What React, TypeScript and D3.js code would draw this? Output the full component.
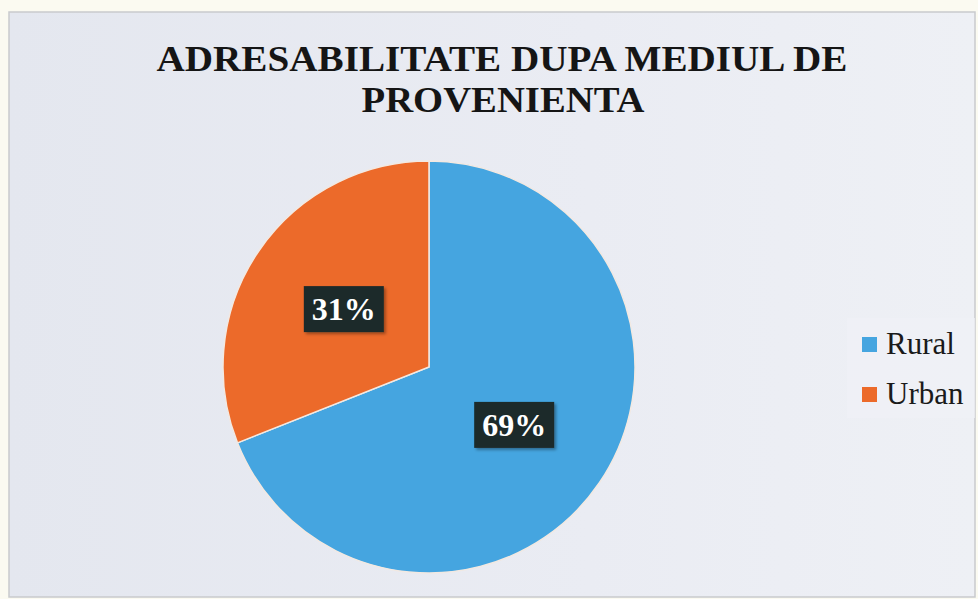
import React, { useMemo } from 'react'
import { arc, pie, scaleOrdinal } from 'd3'

// chart data
const categories: string[] = ['Rural', 'Urban']
const shares: number[] = [69, 31]
const sliceColors: string[] = ['#45a5e0', '#ec6a2a']
const titleLines: string[] = ['ADRESABILITATE DUPA MEDIUL DE', 'PROVENIENTA']

const W = 978, H = 599
const cx = 429, cy = 367, radius = 206
const serif = '"Liberation Serif", "DejaVu Serif", serif'

export default function App() {
  const color = useMemo(() => scaleOrdinal<string, string>().domain(categories).range(sliceColors), [])

  const slices = useMemo(() => {
    const gen = pie<number>().sort(null).value((d) => d)
    return gen(shares)
  }, [])

  const arcGen = arc<any>().innerRadius(0).outerRadius(radius)

  return (
    <svg width={W} height={H} style={{ position: 'absolute', left: 0, top: 0 }}>
      <defs>
        <linearGradient id="bg" x1="0" y1="0" x2="1" y2="0">
          <stop offset="0" stopColor="#e4e7ef" />
          <stop offset="0.6" stopColor="#eaecf3" />
          <stop offset="1" stopColor="#eef0f5" />
        </linearGradient>
        <filter id="shadow" x="-20%" y="-20%" width="150%" height="150%">
          <feDropShadow dx="2" dy="2" stdDeviation="1.5" floodColor="#000" floodOpacity="0.35" />
        </filter>
      </defs>
      {/* paper + chart area */}
      <rect x={0} y={0} width={W} height={H} fill="#fbfaf1" />
      <rect x={9} y={12} width={966} height={585} fill="url(#bg)" stroke="#c9cacd" strokeWidth={1.5} />

      {/* title */}
      <g fontFamily={serif} fontWeight="bold" fill="#151515" textAnchor="middle">
        <text x={502} y={71} fontSize={36} textLength={691} lengthAdjust="spacingAndGlyphs">{titleLines[0]}</text>
        <text x={503} y={112} fontSize={36} textLength={283} lengthAdjust="spacingAndGlyphs">{titleLines[1]}</text>
      </g>

      {/* pie */}
      <g transform={`translate(${cx},${cy})`}>
        {slices.map((s, i) => (
          <path key={categories[i]} d={arcGen(s) ?? ''} fill={color(categories[i])} stroke="#f2e9e2" strokeWidth={1.5} />
        ))}
        {slices.map((s, i) => {
          const [lx, ly] = arcGen.centroid(s)
          const label = `${shares[i]}%`
          return (
            <g key={'lbl' + i} transform={`translate(${lx},${ly})`}>
              <rect x={-40} y={-23} width={80} height={46} fill="#1d2a2b" filter="url(#shadow)" />
              <text y={11} textAnchor="middle" fontFamily={serif} fontWeight="bold" fontSize={32} fill="#ffffff">{label}</text>
            </g>
          )
        })}
      </g>

      {/* legend */}
      <rect x={847} y={318} width={128} height={100} fill="#eff1f6" opacity={0.7} />
      <g fontFamily={serif} fontSize={31} fill="#1a1a1a">
        {categories.map((c, i) => (
          <g key={c} transform={`translate(862,${337 + i * 50})`}>
            <rect width={15} height={15} fill={color(c)} />
            <text x={24} y={17}>{c}</text>
          </g>
        ))}
      </g>
    </svg>
  )
}
